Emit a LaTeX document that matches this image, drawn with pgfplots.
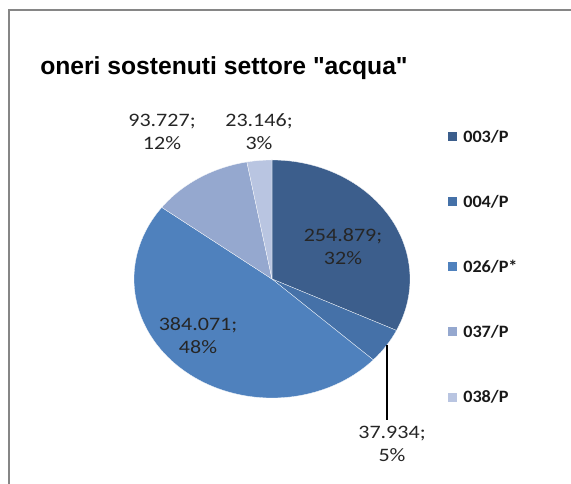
\documentclass[border=0pt]{standalone}
\usepackage{pgfplots}
\pgfplotsset{compat=1.18}
\usepackage{pgfplotstable}
\usepackage{fontspec}
\setmainfont{Carlito}
\newfontfamily\titlefont{Liberation Sans}
\definecolor{cA}{HTML}{3C5E8C}
\definecolor{cB}{HTML}{4571A8}
\definecolor{cC}{HTML}{4F81BD}
\definecolor{cD}{HTML}{95A8CF}
\definecolor{cE}{HTML}{B9C5E1}
\definecolor{frame}{HTML}{868686}
\pgfplotstableread{
name value
003/P 254.879
004/P 37.934
026/P* 384.071
037/P 93.727
038/P 23.146
}\piedata
\newcommand\lbl[2]{\scalebox{1.16}[1]{\begin{tabular}{@{}c@{}}#1\\#2\end{tabular}}}
\newcommand\legentry[3]{%
  \fill[#1] (axis cs:448,#2-4.5) rectangle (axis cs:457,#2+4.5);
  \node[anchor=base west, inner sep=0pt, text=black!90, font=\bfseries\fontsize{13}{15}\selectfont] at (axis cs:463,#2-5.5) {\scalebox{1.05}[1]{#3}};}
\begin{document}
\begin{tikzpicture}
\pgfplotstablegetelem{0}{value}\of\piedata \pgfmathsetmacro\vA{\pgfplotsretval}
\pgfplotstablegetelem{1}{value}\of\piedata \pgfmathsetmacro\vB{\pgfplotsretval}
\pgfplotstablegetelem{2}{value}\of\piedata \pgfmathsetmacro\vC{\pgfplotsretval}
\pgfplotstablegetelem{3}{value}\of\piedata \pgfmathsetmacro\vD{\pgfplotsretval}
\pgfplotstablegetelem{4}{value}\of\piedata \pgfmathsetmacro\vE{\pgfplotsretval}
\pgfmathsetmacro\T{\vA+\vB+\vC+\vD+\vE}
\pgfmathsetmacro\aA{90}
\pgfmathsetmacro\aB{\aA-360*(\vA/\T)}
\pgfmathsetmacro\aC{\aB-360*(\vB/\T)}
\pgfmathsetmacro\aD{\aC-360*(\vC/\T)}
\pgfmathsetmacro\aE{\aD-360*(\vD/\T)}
\pgfmathsetmacro\aF{-270}
\fill[white] (0,0) rectangle (428.25pt,362.25pt);
\begin{axis}[scale only axis, width=428.25pt, height=362.25pt,
  xmin=0, xmax=571, ymin=0, ymax=483, hide axis, clip=false,
  at={(0,0)}, anchor=south west]
\addplot[fill=cA, draw=white, line width=0.2pt, domain=\aB:\aA, samples=80, variable=\t] ({272+138*cos(\t)},{204+119*sin(\t)}) -- (axis cs:272,204) -- cycle;
\addplot[fill=cB, draw=white, line width=0.2pt, domain=\aC:\aB, samples=30, variable=\t] ({272+138*cos(\t)},{204+119*sin(\t)}) -- (axis cs:272,204) -- cycle;
\addplot[fill=cC, draw=white, line width=0.2pt, domain=\aD:\aC, samples=120, variable=\t] ({272+138*cos(\t)},{204+119*sin(\t)}) -- (axis cs:272,204) -- cycle;
\addplot[fill=cD, draw=white, line width=0.2pt, domain=\aE:\aD, samples=40, variable=\t] ({272+138*cos(\t)},{204+119*sin(\t)}) -- (axis cs:272,204) -- cycle;
\addplot[fill=cE, draw=white, line width=0.2pt, domain=\aF:\aE, samples=20, variable=\t] ({272+138*cos(\t)},{204+119*sin(\t)}) -- (axis cs:272,204) -- cycle;
% leader line
\addplot[black, line width=1.2pt] coordinates {(387,138) (387,63)};
% data labels
\begin{scope}[every node/.style={text=black!85, font=\fontsize{14.25}{17.25}\selectfont, inner sep=0pt}]
\node at (axis cs:343,234.5) {\lbl{254.879;}{32\%}};
\node at (axis cs:259,349.5) {\lbl{23.146;}{3\%}};
\node at (axis cs:162,349.5) {\lbl{93.727;}{12\%}};
\node at (axis cs:198,145.5) {\lbl{384.071;}{48\%}};
\node at (axis cs:392,37.5) {\lbl{37.934;}{5\%}};
\end{scope}
% title
\node[anchor=base west, inner sep=0pt, font=\titlefont\bfseries\fontsize{18.5}{22}\selectfont] at (axis cs:40,408) {oneri sostenuti settore "acqua"};
% legend
\legentry{cA}{346}{003/P}
\legentry{cB}{281}{004/P}
\legentry{cC}{216}{026/P*}
\legentry{cD}{151}{037/P}
\legentry{cE}{86}{038/P}
% frame
\draw[frame, line width=1.3pt] (axis cs:572,473) -- (axis cs:8.7,473) -- (axis cs:8.7,-1);
\end{axis}
\pgfresetboundingbox
\path[use as bounding box] (0,0) rectangle (428.25pt,362.25pt);
\end{tikzpicture}
\end{document}
